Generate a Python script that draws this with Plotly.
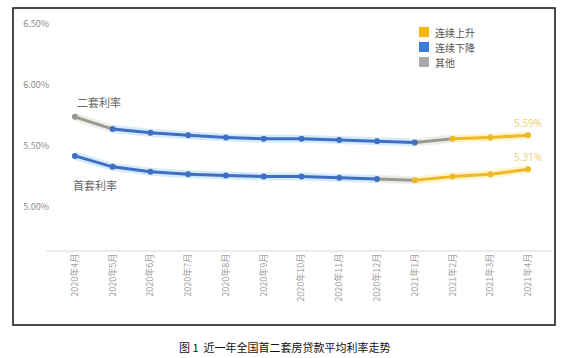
import plotly.graph_objects as go

months = ["2020年4月", "2020年5月", "2020年6月", "2020年7月", "2020年8月", "2020年9月",
          "2020年10月", "2020年11月", "2020年12月", "2021年1月", "2021年2月", "2021年3月", "2021年4月"]
second_rate = [5.74, 5.64, 5.61, 5.59, 5.57, 5.56, 5.56, 5.55, 5.54, 5.53, 5.56, 5.57, 5.59]
first_rate = [5.42, 5.33, 5.29, 5.27, 5.26, 5.25, 5.25, 5.24, 5.23, 5.22, 5.25, 5.27, 5.31]

# trend category of each segment / point
second_seg = ["其他"] + ["连续下降"] * 8 + ["其他"] + ["连续上升"] * 2
first_seg = ["连续下降"] * 8 + ["其他"] + ["连续上升"] * 3
second_pts = ["其他"] + ["连续下降"] * 9 + ["连续上升"] * 3
first_pts = ["连续下降"] * 9 + ["连续上升"] * 4

legend_names = ["连续上升", "连续下降", "其他"]
line_col = {"连续上升": "#EDB82A", "连续下降": "#3F6FC0", "其他": "#9A9A8E"}
glow_col = {"连续上升": "rgba(255,226,120,0.4)", "连续下降": "rgba(150,205,250,0.4)",
            "其他": "rgba(200,200,190,0.35)"}
legend_col = {"连续上升": "#F2B705", "连续下降": "#3A7CDB", "其他": "#ABABAB"}

fig = go.Figure()

def add_series(vals, segs, pts):
    for i, s in enumerate(segs):
        fig.add_trace(go.Scatter(x=months[i:i + 2], y=vals[i:i + 2], mode="lines",
                                 line=dict(color=glow_col[s], width=8), showlegend=False,
                                 hoverinfo="skip"))
    for i, s in enumerate(segs):
        fig.add_trace(go.Scatter(x=months[i:i + 2], y=vals[i:i + 2], mode="lines",
                                 line=dict(color=line_col[s], width=3), showlegend=False))
    fig.add_trace(go.Scatter(x=months, y=vals, mode="markers",
                             marker=dict(size=6, color=[line_col[p] for p in pts]),
                             showlegend=False))

add_series(second_rate, second_seg, second_pts)
add_series(first_rate, first_seg, first_pts)

# legend (drawn manually for tight spacing)
PW, PH, L, B = 491.0, 239.0, 56.0, 251.0
def px(x):
    return (x - L) / PW
def py(y):
    return (B - y) / PH
for k, n in enumerate(legend_names):
    cy = 32 + 15 * k
    fig.add_shape(type="rect", xref="paper", yref="paper",
                  x0=px(419), x1=px(429), y0=py(cy + 5), y1=py(cy - 5),
                  line=dict(width=0), fillcolor=legend_col[n])
    fig.add_annotation(xref="paper", yref="paper", x=px(433), y=py(cy), text=n,
                       showarrow=False, xanchor="left", yanchor="middle",
                       font=dict(family="Noto Sans CJK SC", size=10, color="#555555"))

ann_font = dict(family="Noto Sans CJK SC", size=11, color="#666666")
fig.add_annotation(x=months[0], y=second_rate[0], text="二套利率", showarrow=False,
                   xanchor="left", xshift=0, yshift=15, font=ann_font)
fig.add_annotation(x=months[0], y=first_rate[0], text="首套利率", showarrow=False,
                   xanchor="left", xshift=-4, yshift=-29, font=ann_font)
val_font = dict(family="Noto Sans", size=10, color="#EDD37A")
fig.add_annotation(x=months[-1], y=second_rate[-1], text=f"{second_rate[-1]:.2f}%", showarrow=False,
                   yshift=12, font=val_font)
fig.add_annotation(x=months[-1], y=first_rate[-1], text=f"{first_rate[-1]:.2f}%", showarrow=False,
                   yshift=12, font=val_font)

fig.add_annotation(xref="paper", yref="paper", x=px(285), y=py(347), showarrow=False,
                   xanchor="center", yanchor="middle",
                   text="图 1  近一年全国首二套房贷款平均利率走势",
                   font=dict(family="Noto Sans CJK SC", size=11, color="#111111"))

# outer frame
fig.add_shape(type="rect", xref="paper", yref="paper", x0=px(13), x1=px(555), y0=py(325), y1=py(8),
              line=dict(color="#111111", width=1.5))
# axis baseline
fig.add_shape(type="line", xref="paper", yref="paper", x0=px(46), x1=px(551), y0=0, y1=0,
              line=dict(color="#D9D9D9", width=1))

fig.update_layout(
    width=571, height=358,
    margin=dict(l=56, r=24, t=12, b=107),
    paper_bgcolor="white", plot_bgcolor="white",
    font=dict(family="Noto Sans CJK SC"),
    showlegend=False,
    xaxis=dict(type="category", range=[-0.5, 12.5], showgrid=False, showline=False,
               tickangle=-90, tickfont=dict(size=9, color="#A0A0A0"), ticks=""),
    yaxis=dict(range=[4.64, 6.6], tickvals=[5.0, 5.5, 6.0, 6.5],
               ticktext=["5.00%", "5.50%", "6.00%", "6.50%"], showgrid=False,
               zeroline=False, showline=False, tickfont=dict(size=9, color="#8A8A8A"),
               ticklabelstandoff=6),
)

fig.write_html("out.html", config={"displayModeBar": False},
               post_script="document.body.style.margin='0';")
